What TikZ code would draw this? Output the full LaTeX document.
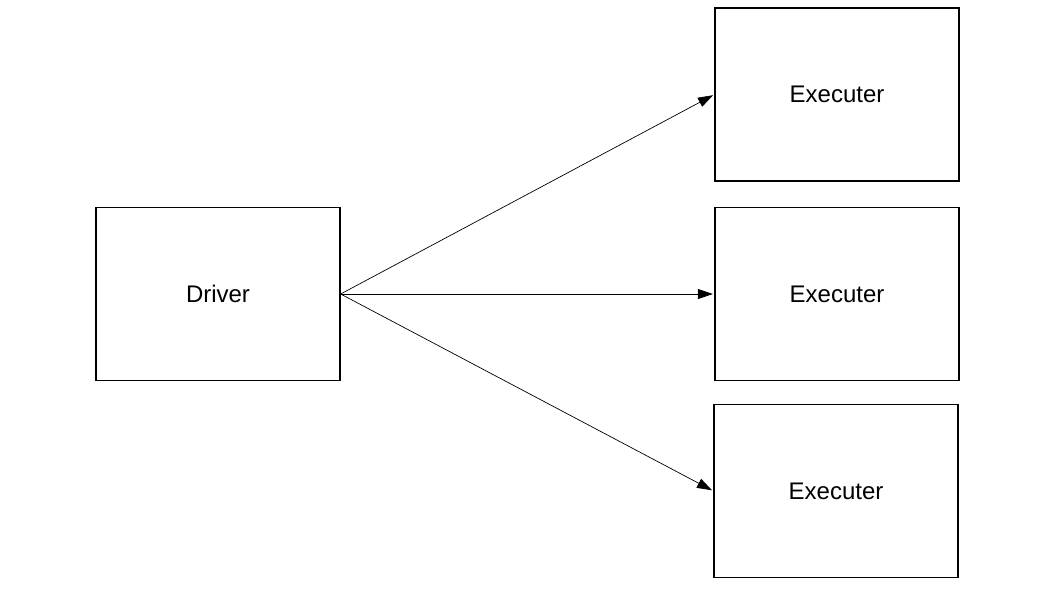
\documentclass[tikz,border=0pt]{standalone}
\usepackage{fontspec}
\setmainfont{Liberation Sans}
\usetikzlibrary{arrows.meta}
\begin{document}
\begin{tikzpicture}[x=1pt,y=-1pt,
  procbox/.style={draw=black, line width=1.3pt, minimum width=244pt, minimum height=173pt, inner sep=0pt, font=\fontsize{24}{28}\selectfont},
  link/.style={draw=black, line width=0.7pt, -{Triangle[length=15pt,width=10pt]}, shorten >=1.5pt}]
  \useasboundingbox (0,0) rectangle (1058,595);
  \node[procbox] (driver) at (218,294) {Driver};
  \node[procbox] (exec1) at (837,94.5) {Executer};
  \node[procbox] (exec2) at (837,294) {Executer};
  \node[procbox] (exec3) at (836,491) {Executer};
  \draw[link] (driver.east) -- (exec1.west);
  \draw[link] (driver.east) -- (exec2.west);
  \draw[link] (driver.east) -- (exec3.west);
\end{tikzpicture}
\end{document}
